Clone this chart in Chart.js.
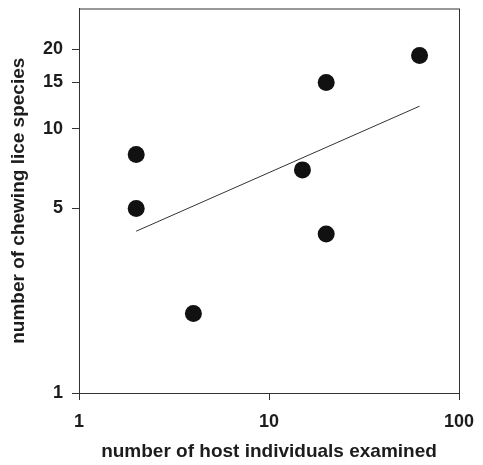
<!DOCTYPE html>
<html>
<head>
<meta charset="utf-8">
<script src="https://cdn.jsdelivr.net/npm/chart.js@4.4.0/dist/chart.umd.min.js"></script>
<style>
  html, body { margin: 0; padding: 0; background: #fff; }
  #wrap { width: 483px; height: 465px; }
</style>
</head>
<body>
<div id="wrap"><canvas id="liceChart"></canvas></div>
<script>
// datos (escala log-log)
const hostsExamined = [2, 2, 4, 15, 20, 20, 62];
const liceSpecies = [8, 5, 2, 7, 15, 4, 19];

// recta de regresion (extremos)
const fitX = [2, 62];
const fitY = [4.1, 12.2];

const xTicks = [1, 10, 100];
const yTicks = [1, 5, 10, 15, 20];

const ink = '#1c1c1c';
const tickFont = { family: 'Liberation Sans, Arial, sans-serif', size: 18, weight: 'bold' };
const titleFont = { family: 'Liberation Sans, Arial, sans-serif', size: 19, weight: 'bold' };

// marco completo alrededor del area del grafico
const framePlugin = {
  id: 'frame',
  afterDraw(chart) {
    const { ctx, chartArea: a } = chart;
    ctx.save();
    ctx.strokeStyle = '#333';
    ctx.lineWidth = 1;
    ctx.strokeRect(a.left + 0.5, a.top + 0.5, a.right - a.left, a.bottom - a.top);
    ctx.restore();
  }
};

const ctx = document.getElementById('liceChart').getContext('2d');
new Chart(ctx, {
  type: 'scatter',
  data: {
    datasets: [
      {
        data: hostsExamined.map((x, i) => ({ x: x, y: liceSpecies[i] })),
        backgroundColor: '#111',
        borderWidth: 0,
        pointRadius: 8.5,
        pointHoverRadius: 8.5
      },
      {
        type: 'line',
        data: fitX.map((x, i) => ({ x: x, y: fitY[i] })),
        borderColor: '#333',
        borderWidth: 1,
        pointRadius: 0,
        fill: false,
        tension: 0
      }
    ]
  },
  options: {
    responsive: true,
    maintainAspectRatio: false,
    animation: false,
    layout: { padding: { top: 7, right: 24, left: 0, bottom: 0 } },
    plugins: { legend: { display: false }, tooltip: { enabled: false } },
    scales: {
      x: {
        type: 'logarithmic',
        min: 1,
        max: 100,
        afterBuildTicks: s => { s.ticks = xTicks.map(v => ({ value: v })); },
        afterFit: s => { s.height = 72; s.paddingLeft = 0; s.paddingRight = 0; },
        grid: { drawOnChartArea: false, tickLength: 7, color: '#333' },
        border: { color: '#333' },
        ticks: { color: ink, font: tickFont, padding: 11, maxRotation: 0, callback: v => String(v) },
        title: { display: true, text: 'number of host individuals examined', color: ink, font: titleFont, padding: { top: 0, bottom: 2 } }
      },
      y: {
        type: 'logarithmic',
        min: 1,
        max: 28.6,
        afterBuildTicks: s => { s.ticks = yTicks.map(v => ({ value: v })); },
        afterFit: s => { s.width = 79; s.paddingTop = 0; s.paddingBottom = 0; },
        grid: { drawOnChartArea: false, tickLength: 7, color: '#333' },
        border: { color: '#333' },
        ticks: { color: ink, font: tickFont, padding: 9, callback: v => String(v) },
        title: { display: true, text: 'number of chewing lice species', color: ink, font: titleFont, padding: { top: 7, bottom: 0 } }
      }
    }
  },
  plugins: [framePlugin]
});
</script>
</body>
</html>
